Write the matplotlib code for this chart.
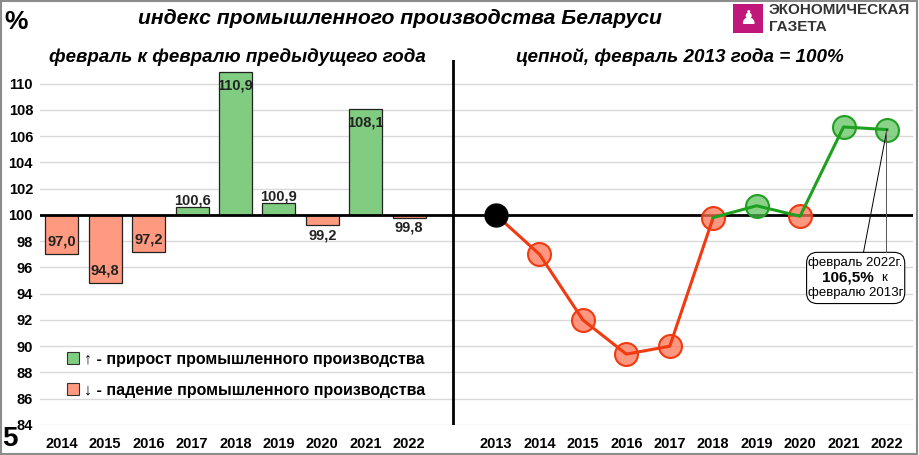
import numpy as np
import matplotlib.pyplot as plt
from matplotlib.patches import Patch, Rectangle, FancyBboxPatch

plt.rcParams['font.family'] = ['Liberation Sans', 'DejaVu Sans']

# годовые индексы, февраль к февралю предыдущего года
bar_years = ['2014', '2015', '2016', '2017', '2018', '2019', '2020', '2021', '2022']
bar_vals = [97.0, 94.8, 97.2, 100.6, 110.9, 100.9, 99.2, 108.1, 99.8]

# цепной индекс, февраль 2013 = 100
chain_years = ['2013', '2014', '2015', '2016', '2017', '2018', '2019', '2020', '2021', '2022']
chain_vals = [100.0, 97.0, 92.0, 89.4, 90.0, 99.8, 100.7, 99.9, 106.7, 106.5]

RED_BAR = '#FF9980'
GREEN_BAR = '#80CC80'
RED_LINE = '#F03A10'
GREEN_LINE = '#1FA01F'

fig = plt.figure(figsize=(9.19, 4.55), dpi=100)
ax = fig.add_axes([40/919, 30/455, 873/919, 365/455])

xb = np.arange(len(bar_years))
xc = np.arange(len(chain_years)) + len(bar_years) + 1
split = len(bar_years)

# bars relative to 100
cols = [GREEN_BAR if v >= 100 else RED_BAR for v in bar_vals]
ax.bar(xb, np.array(bar_vals) - 100, bottom=100, width=0.76, color=cols,
       edgecolor='#222222', linewidth=0.9, zorder=3)

for x, v in zip(xb, bar_vals):
    lab = ('%.1f' % v).replace('.', ',')
    up = v >= 100
    inside = abs(v - 100) > 2
    if inside:
        off = -5 if up else 4
        va = 'top' if up else 'bottom'
    else:
        off = 0 if up else -2
        va = 'bottom' if up else 'top'
    ax.annotate(lab, (x, v), xytext=(0, off), textcoords='offset points',
                ha='center', va=va, fontsize=10.5, fontweight='bold',
                color='#222222', zorder=5)

# chain line
n_red = chain_years.index('2018') + 1
ax.plot(xc[:n_red], chain_vals[:n_red], color=RED_LINE, lw=2.2, zorder=6)
ax.plot(xc[n_red - 1:], chain_vals[n_red - 1:], color=GREEN_LINE, lw=2.2, zorder=6)
for i, (x, v) in enumerate(zip(xc, chain_vals)):
    if i == 0:
        ax.plot(x, v, 'o', ms=16.5, color='black', zorder=7)
    elif v < 100:
        ax.plot(x, v, 'o', ms=16.5, mfc=(1.0, 0.45, 0.33, 0.75), mec=RED_LINE, mew=1.5, zorder=5)
    else:
        ax.plot(x, v, 'o', ms=16.5, mfc=(0.35, 0.75, 0.35, 0.7), mec=GREEN_LINE, mew=1.5, zorder=5)

ax.axhline(100, color='black', lw=2, zorder=4)
ax.axvline(split, color='black', lw=2, zorder=4)

ax.set_xlim(-0.5, 19.6)
ax.set_ylim(84, 111.8)
ax.set_yticks(np.arange(84, 111, 2))
ax.set_xticks(list(xb) + list(xc))
ax.set_xticklabels(bar_years + chain_years)
ax.tick_params(axis='x', length=0, labelsize=10.5, pad=9)
ax.tick_params(axis='y', length=0, labelsize=10.5, pad=5)
for t in ax.get_xticklabels() + ax.get_yticklabels():
    t.set_fontweight('bold')
ax.grid(axis='y', color='#D9D9D9', lw=1)
ax.set_axisbelow(True)
for s in ax.spines.values():
    s.set_visible(False)

# callout for 2022
last_x, last_v = xc[-1], chain_vals[-1]
bx, by = last_x - 0.72, 95.2
box = FancyBboxPatch((bx - 1.13, by - 1.95), 2.26, 3.9,
                     boxstyle='round,pad=0,rounding_size=0.25', mutation_aspect=3.3,
                     fc='white', ec='black', lw=0.8, zorder=8)
ax.add_patch(box)
ax.text(bx, by + 1.15, 'февраль 2022г.', ha='center', va='center', fontsize=9.5, zorder=9)
ax.text(bx - 0.18, by, '106,5%', ha='center', va='center', fontsize=11,
        fontweight='bold', zorder=9)
ax.text(bx + 0.65, by, 'к', ha='center', va='center', fontsize=9.5, zorder=9)
ax.text(bx, by - 1.15, 'февралю 2013г', ha='center', va='center', fontsize=9.5, zorder=9)
ax.plot([bx + 0.18, last_x], [by + 1.95, last_v], color='black', lw=0.7, zorder=8)
ax.plot([last_x - 0.03, last_x - 0.03], [by + 1.95, last_v], color='#555555', lw=0.7, zorder=8)

# legend
handles = [Patch(fc=GREEN_BAR, ec='#333333', lw=0.8), Patch(fc=RED_BAR, ec='#333333', lw=0.8)]
labels = ['↑ - прирост промышленного производства', '↓ - падение промышленного производства']
leg = ax.legend(handles, labels, loc='lower left', bbox_to_anchor=(0.014, 0.035),
                frameon=False, handlelength=0.75, handleheight=0.75, handletextpad=0.35,
                labelspacing=1.0, prop={'size': 11.5, 'weight': 'bold'})

# titles and other text
fig.text(16/919, 1 - 22/455, '%', fontsize=19, fontweight='bold', ha='center', va='center')
fig.text(400/919, 1 - 19/455, 'индекс промышленного производства Беларуси',
         fontsize=15.2, fontweight='bold', style='italic', ha='center', va='center')
fig.text(237/919, 1 - 57/455, 'февраль к февралю предыдущего года',
         fontsize=13.5, fontweight='bold', style='italic', ha='center', va='center')
fig.text(680/919, 1 - 57/455, 'цепной, февраль 2013 года = 100%',
         fontsize=13.6, fontweight='bold', style='italic', ha='center', va='center')
fig.text(10/919, 1 - 439/455, '5', fontsize=20, fontweight='bold', ha='center', va='center')

# logo
fig.patches.append(Rectangle((733/919, 1 - 33/455), 30/919, 29/455, transform=fig.transFigure,
                             fc='#C0177A', ec='none'))
fig.text(748/919, 1 - 19/455, '♟', fontsize=14, color='white', ha='center', va='center',
         family='DejaVu Sans')
fig.text(769/919, 1 - 10/455, 'ЭКОНОМИЧЕСКАЯ', fontsize=11, fontweight='bold',
         color='#333333', ha='left', va='center')
fig.text(769/919, 1 - 27/455, 'ГАЗЕТА', fontsize=11, fontweight='bold',
         color='#333333', ha='left', va='center')

# frame around the picture
fig.patches.append(Rectangle((0.001, 0.002), 0.997, 0.996, transform=fig.transFigure,
                             fill=False, ec='#8C8C8C', lw=1.5))

fig.savefig('out.png', dpi=100)
